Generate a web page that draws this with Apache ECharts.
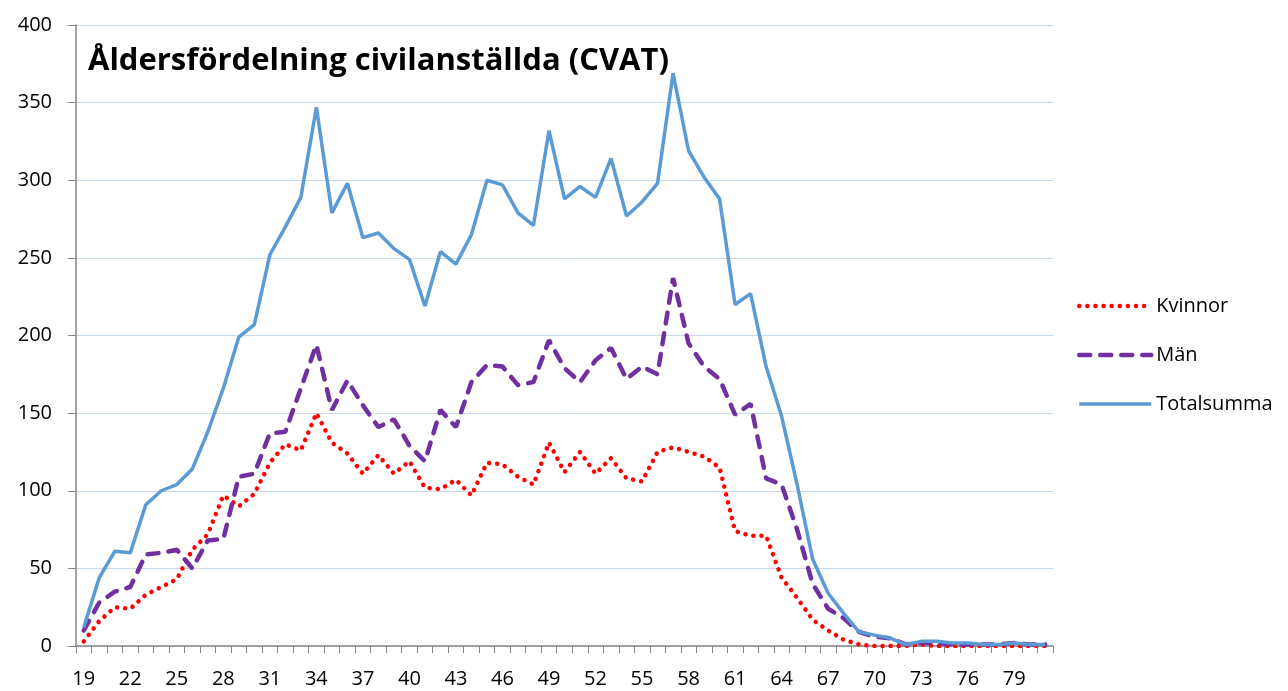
<!DOCTYPE html>
<html>
<head>
  <meta charset="utf-8">
  <title>Åldersfördelning civilanställda</title>
  <script src="https://cdn.jsdelivr.net/npm/echarts@6/dist/echarts.min.js"></script>
  <style>
    html, body { margin: 0; padding: 0; background: #fff; }
    #chart { width: 1288px; height: 691px; }
  </style>
</head>
<body>
<div id="chart"></div>
<script>
  // ålder (kategorier)
  var ages = ['19','20','21','22','23','24','25','26','27','28','29','30','31','32','33','34','35','36','37','38',
    '39','40','41','42','43','44','45','46','47','48','49','50','51','52','53','54','55','56','57','58',
    '59','60','61','62','63','64','65','66','67','68','69','70','71','72','73','74','75','76','77','78',
    '79','80','81'];

  var kvinnor = [3,16,25,24,33,38,43,62,72,97,90,98,118,130,126,150,131,124,111,123,
    111,119,102,101,107,97,118,117,109,104,131,112,125,111,121,108,106,125,128,125,
    122,115,74,71,71,44,31,17,10,4,1,0,0,0,1,0,0,0,0,0,
    0,0,0];

  var man = [10,28,35,38,59,60,62,50,68,69,109,111,137,138,166,194,152,171,155,141,
    146,129,119,152,141,170,181,180,168,170,197,179,170,184,192,172,180,175,237,195,
    180,172,149,156,108,104,75,40,24,18,9,6,5,1,2,2,1,1,1,1,
    2,1,1];

  var totalsumma = [12,44,61,60,91,100,104,114,138,166,199,207,252,270,289,347,279,298,263,266,
    256,249,219,254,246,265,300,297,279,271,332,288,296,289,314,277,286,298,369,319,
    302,288,220,227,180,148,104,56,34,21,9,7,5,1,3,3,2,2,1,1,
    2,1,1];

  var chart = echarts.init(document.getElementById('chart'));

  chart.setOption({
    animation: false,
    backgroundColor: '#ffffff',
    textStyle: { fontFamily: 'Open Sans, sans-serif', color: '#000' },
    title: {
      text: 'Åldersfördelning civilanställda (CVAT)',
      left: 88,
      top: 46,
      padding: 0,
      textStyle: { fontSize: 31, fontWeight: 'bold', color: '#000', fontFamily: 'Open Sans' }
    },
    legend: {
      orient: 'vertical',
      left: 1077,
      top: 296,
      padding: 0,
      itemWidth: 72,
      itemHeight: 14,
      itemGap: 29,
      itemStyle: { opacity: 0 },
      lineStyle: { width: 'inherit' },
      textStyle: { fontSize: 20, color: '#000', fontFamily: 'Open Sans' },
      data: ['Kvinnor', 'Män', 'Totalsumma']
    },
    grid: { left: 76, right: 235, top: 25, bottom: 45, containLabel: false },
    xAxis: {
      type: 'category',
      data: ages,
      boundaryGap: true,
      axisLine: { lineStyle: { color: '#868686', width: 1.5 } },
      axisTick: { show: true, interval: 0, length: 7, lineStyle: { color: '#868686' } },
      axisLabel: { interval: 2, fontSize: 20, color: '#000', margin: 23 },
      splitLine: { show: false }
    },
    yAxis: {
      type: 'value',
      min: 0,
      max: 400,
      interval: 50,
      axisLine: { show: true, lineStyle: { color: '#868686', width: 1.5 } },
      axisTick: { show: true, length: 8, lineStyle: { color: '#868686' } },
      axisLabel: { fontSize: 20, color: '#000', margin: 24 },
      splitLine: { lineStyle: { color: '#c6d9f1', width: 1 } }
    },
    series: [
      {
        name: 'Kvinnor',
        type: 'line',
        data: kvinnor,
        symbol: 'none',
        lineStyle: { color: '#ff0000', width: 4.5, type: [0.1, 8], cap: 'round' },
        itemStyle: { color: '#ff0000' }
      },
      {
        name: 'Män',
        type: 'line',
        data: man,
        symbol: 'none',
        lineStyle: { color: '#7030a0', width: 4.5, type: [11, 10], cap: 'round' },
        itemStyle: { color: '#7030a0' }
      },
      {
        name: 'Totalsumma',
        type: 'line',
        data: totalsumma,
        symbol: 'none',
        lineStyle: { color: '#5b9bd5', width: 3.5 },
        itemStyle: { color: '#5b9bd5' }
      }
    ]
  });
</script>
</body>
</html>
